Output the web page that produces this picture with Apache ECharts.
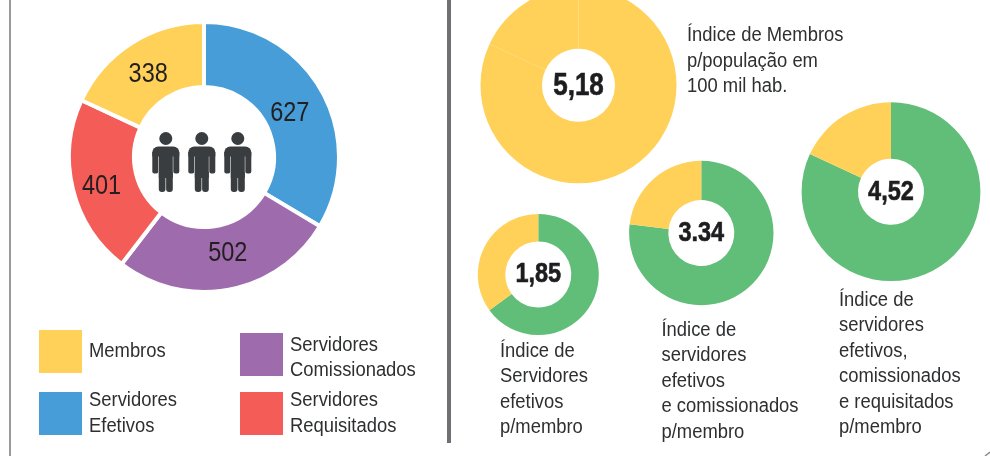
<!DOCTYPE html>
<html><head><meta charset="utf-8">
<style>html,body{margin:0;padding:0;background:#fff}#c{width:990px;height:456px}</style>
<script src="https://cdn.jsdelivr.net/npm/echarts@6/dist/echarts.min.js"></script>
</head><body><div id="c"></div>
<script>
const categories = ['Servidores\nEfetivos','Servidores\nComissionados','Servidores\nRequisitados','Membros'];
const values = [627,502,401,338];
const indexLabels = ['5,18','4,52','3.34','1,85'];
const indexServers = [1530,1530,1129,627];
const indexMembers = [338,338,338,338];
const captions = [
 'Índice de Membros\np/população em\n100 mil hab.',
 'Índice de\nservidores\nefetivos,\ncomissionados\ne requisitados\np/membro',
 'Índice de\nservidores\nefetivos\ne comissionados\np/membro',
 'Índice de\nServidores\nefetivos\np/membro'
];
const FONT = '"Liberation Sans",sans-serif';
const COLORS = {blue:'#469dd7',purple:'#9e6bac',red:'#f45c58',yellow:'#ffd159',green:'#60be79'};
const segColors = [COLORS.blue,COLORS.purple,COLORS.red,COLORS.yellow];
const labelOffsets = [[-6,8],[4,-7],[0,4],[1,6]];
const rings = [
 {c:[578.5,85.3],r:[36.5,98],main:COLORS.yellow,labelY:84.5,cap:[687,23],size:31},
 {c:[891,191.7],r:[33,89.4],main:COLORS.green,labelY:190.5,cap:[839,287.5],size:28},
 {c:[701.3,233],r:[33,72.2],main:COLORS.green,labelY:231.5,cap:[661.5,317.5],size:28},
 {c:[538.3,274.5],r:[33,60.5],main:COLORS.green,labelY:272.5,cap:[500,338.5],size:28}
];
const series = [{
  type:'pie',center:[204,157],radius:[70,135],silent:true,animation:false,
  itemStyle:{borderColor:'#fff',borderWidth:4},
  label:{position:'inside',formatter:'{c}',fontFamily:FONT,fontSize:28,color:'#231f20'},
  labelLine:{show:false},
  data:categories.map((n,i)=>({name:n,value:values[i],itemStyle:{color:segColors[i]},label:{offset:labelOffsets[i]}}))
}];
rings.forEach((g,i)=>{
  series.push({
    type:'pie',center:g.c,radius:g.r,silent:true,animation:false,
    label:{show:false},labelLine:{show:false},
    itemStyle:{borderWidth:0},
    data:[
      {name:'serv'+i,value:indexServers[i],itemStyle:{color:g.main}},
      {name:'memb'+i,value:indexMembers[i],itemStyle:{color:COLORS.yellow}}
    ]
  });
});
const titles = [];
rings.forEach((g,i)=>{
  titles.push({text:indexLabels[i],left:g.c[0],top:g.labelY-15,textAlign:'center',padding:0,
    textStyle:{fontFamily:FONT,fontWeight:'bold',fontSize:g.size,lineHeight:34,color:'#1d1d1f',textBorderColor:'#1d1d1f',textBorderWidth:0.6}});
  titles.push({text:captions[i],left:g.cap[0],top:g.cap[1],padding:0,
    textStyle:{fontFamily:FONT,fontWeight:'normal',fontSize:20,lineHeight:25.5,color:'#2e2f31'}});
});
const legendAt = [[39,388],[240,329],[240,388],[39,330]];
const legendTextDy = [0,3.5,0,0];
const legends = categories.map((n,i)=>({
  data:[n],left:legendAt[i][0],top:legendAt[i][1],padding:0,itemWidth:43,itemHeight:43,itemGap:0,
  selectedMode:false,icon:'rect',itemStyle:{borderWidth:0},
  textStyle:{fontFamily:FONT,fontSize:20,lineHeight:25.5,color:'#2e2f31',padding:[0,0,0,2]}
}));
function personGroup(x){
  const fill='#3a3d40', y=132;
  return {type:'group',x:x,y:y,silent:true,children:[
    {type:'circle',shape:{cx:13.5,cy:6.5,r:6.5},style:{fill}},
    {type:'rect',shape:{x:0,y:14.5,width:27,height:10,r:[6,6,0,0]},style:{fill}},
    {type:'rect',shape:{x:0,y:20,width:6,height:21.5,r:[0,0,2,2]},style:{fill}},
    {type:'rect',shape:{x:21,y:20,width:6,height:21.5,r:[0,0,2,2]},style:{fill}},
    {type:'rect',shape:{x:6.5,y:16,width:14,height:30},style:{fill}},
    {type:'rect',shape:{x:6.5,y:40,width:6.7,height:20,r:[0,0,3,3]},style:{fill}},
    {type:'rect',shape:{x:13.8,y:40,width:6.7,height:20,r:[0,0,3,3]},style:{fill}}
  ]};
}
const graphic = [
  {type:'rect',silent:true,shape:{x:9,y:0,width:2,height:456},style:{fill:'#999a9c'}},
  {type:'rect',silent:true,shape:{x:447,y:0,width:4,height:443},style:{fill:'#6f7074'}},
  {type:'line',silent:true,shape:{x1:985,y1:456,x2:990,y2:452},style:{stroke:'#8a8a8a',lineWidth:1.5}},
  personGroup(152.3),personGroup(188.3),personGroup(224.3)
];
const chart = echarts.init(document.getElementById('c'),null,{renderer:'canvas'});
chart.setOption({backgroundColor:'#fff',animation:false,title:titles,legend:legends,series,graphic,tooltip:{show:false}});
/* no condensed face is installed: narrow each real text element horizontally */
const zr = chart.getZr();
const seen = new Set();
zr.storage.getDisplayList(true).forEach(el=>{
  const t = el.parent;
  if(el.type==='tspan' && t && t.type==='text' && !seen.has(t)){
    seen.add(t);
    const size = Number(t.style.fontSize)||parseFloat(t.style.font)||20;
    t.scaleX = size>=25 ? 0.84 : 0.92;
    const k = categories.indexOf(t.style.text);
    if(k>=0){ t.x += 4; t.y += legendTextDy[k]; }
    t.markRedraw();
  }
});
zr.flush();
</script></body></html>
